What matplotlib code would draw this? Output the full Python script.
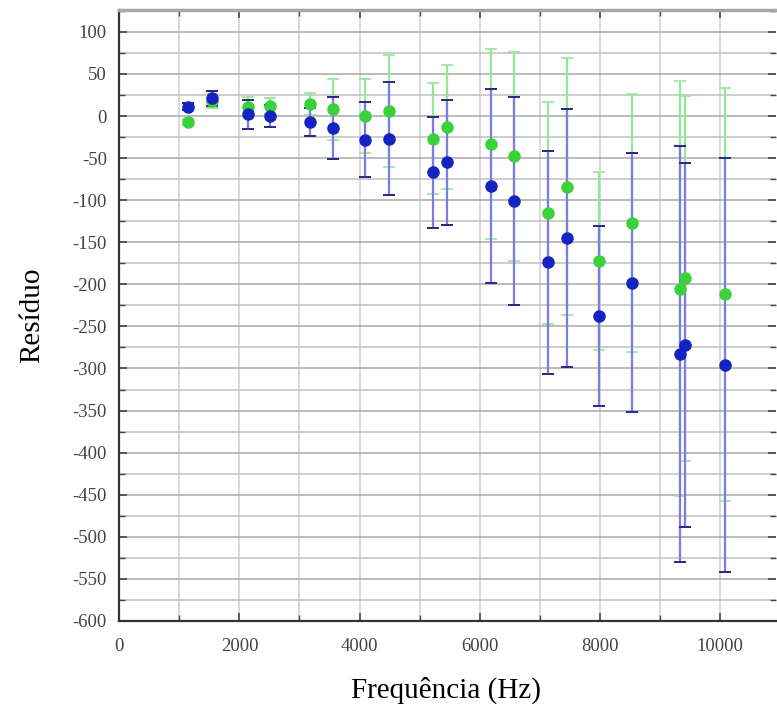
import numpy as np
import matplotlib.pyplot as plt
from matplotlib.ticker import MultipleLocator

# frequencias (Hz)
freq = [1140, 1545, 2150, 2512, 3178, 3550, 4095, 4483, 5218, 5457,
        6190, 6567, 7140, 7457, 7983, 8540, 9333, 9412, 10078]

res_blue = [11, 21, 2, 0, -7, -14, -28, -27, -67, -55,
            -83, -101, -174, -145, -238, -198, -283, -272, -296]
err_blue = [4, 9, 17, 13, 17, 37, 45, 67, 66, 74,
            115, 124, 132, 153, 107, 154, 247, 216, 246]

res_green = [-7, 18, 11, 12, 14, 8, 0, 6, -27, -13,
             -33, -48, -115, -84, -172, -127, -205, -193, -212]
err_green = [4, 8, 12, 10, 13, 36, 44, 67, 66, 74,
             113, 124, 132, 153, 106, 153, 247, 217, 245]

plt.rcParams['font.family'] = ['Liberation Serif', 'DejaVu Serif']
plt.rcParams['axes.unicode_minus'] = False

fig = plt.figure(figsize=(7.77, 7.14), dpi=100)
ax = fig.add_axes([0.1535, 0.1303, 0.845, 0.8557])

# barras de erro
ax.errorbar(freq, res_green, yerr=err_green, fmt='none', ecolor='#94e894',
            elinewidth=1.6, capsize=4, capthick=1.2, zorder=3)
ax.errorbar(freq, res_blue, yerr=err_blue, fmt='none', ecolor='#7c7ce2',
            elinewidth=1.6, capsize=4, capthick=1.2, zorder=4)
# caps escuros para o azul
ax.errorbar(freq, res_blue, yerr=err_blue, fmt='none', ecolor='#2a2a80',
            elinewidth=0, capsize=4, capthick=1.4, zorder=4)

ax.plot(freq, res_green, 'o', color='#3ad23a', markersize=8, zorder=5)
ax.plot(freq, res_blue, 'o', color='#1424c0', markersize=8, zorder=6)

ax.set_xlim(0, 10930)
ax.set_ylim(-600, 126)

ax.xaxis.set_major_locator(MultipleLocator(2000))
ax.xaxis.set_minor_locator(MultipleLocator(1000))
ax.yaxis.set_major_locator(MultipleLocator(50))
ax.yaxis.set_minor_locator(MultipleLocator(25))

ax.grid(True, which='major', axis='y', color='#a8a8a8', linewidth=1.1)
ax.grid(True, which='minor', axis='y', color='#c0c0c0', linewidth=1.1)
ax.grid(True, which='both', axis='x', color='#d0d0d0', linewidth=1.1)
ax.set_axisbelow(True)

ax.tick_params(which='both', direction='in', top=True, right=True,
               labelsize=13.5, colors='#444444')
ax.tick_params(axis='x', pad=12)
ax.tick_params(axis='y', pad=9)
ax.tick_params(which='major', length=6, width=1.2)
ax.tick_params(which='minor', length=4, width=1.0)

for s in ['left', 'bottom']:
    ax.spines[s].set_linewidth(1.6)
    ax.spines[s].set_color('#333333')
ax.spines['top'].set_linewidth(2.5)
ax.spines['top'].set_color('#a8a8a8')
ax.spines['right'].set_visible(False)

ax.set_xlabel('Frequência (Hz)', fontsize=21, va='center')
ax.set_ylabel('Resíduo', fontsize=21, va='center')
ax.xaxis.set_label_coords(0.497, -0.113)
ax.yaxis.set_label_coords(-0.132, 0.50)

fig.savefig('out.png', dpi=100)
